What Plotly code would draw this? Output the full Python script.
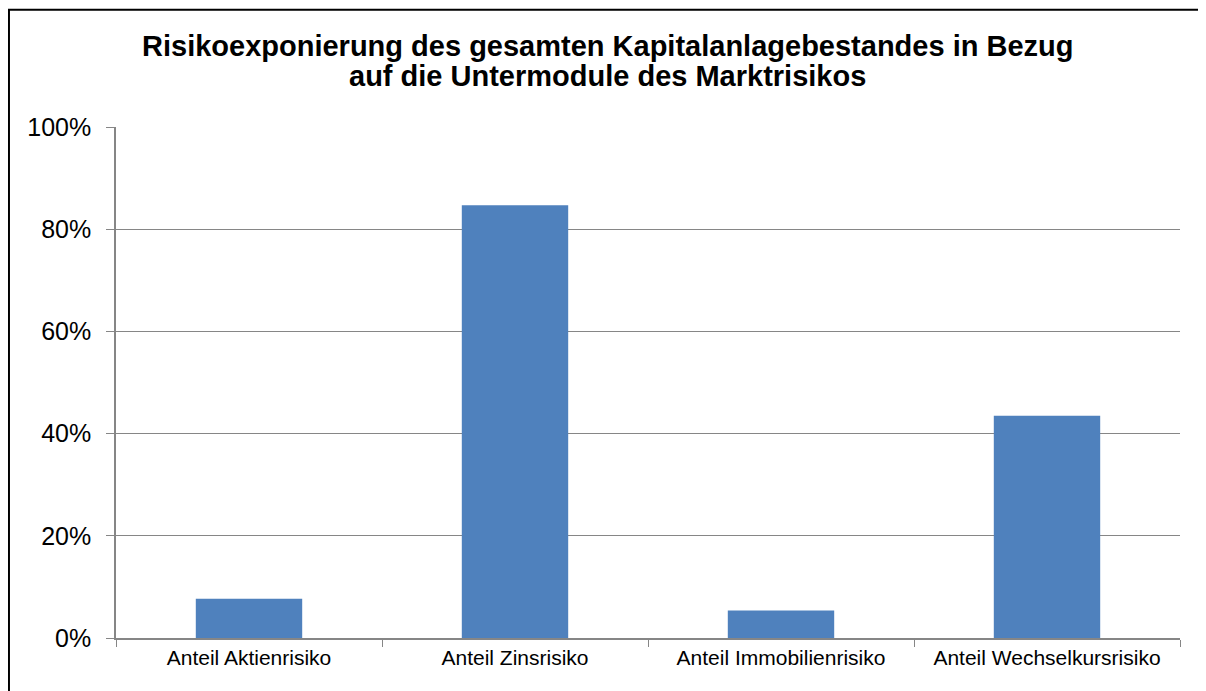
import plotly.graph_objects as go

categories = ["Anteil Aktienrisiko", "Anteil Zinsrisiko", "Anteil Immobilienrisiko", "Anteil Wechselkursrisiko"]
values = [0.077, 0.847, 0.054, 0.435]
tick_vals = [0, 0.2, 0.4, 0.6, 0.8, 1.0]
tick_text = ["0%", "20%", "40%", "60%", "80%", "100%"]
title_lines = ["Risikoexponierung des gesamten Kapitalanlagebestandes in Bezug",
               "auf die Untermodule des Marktrisikos"]

fig = go.Figure(go.Bar(
    x=categories, y=values, width=0.4,
    marker=dict(color="#4F81BD", line=dict(width=0)),
))

fig.update_layout(
    width=1198, height=683,
    margin=dict(l=108, r=26, t=118.5, b=52.5, autoexpand=False),
    paper_bgcolor="white", plot_bgcolor="white",
    font=dict(family="Liberation Sans, Arial, sans-serif", color="black"),
    showlegend=False,
    annotations=[
        dict(text="<b>" + title_lines[0] + "</b>", xref="paper", yref="paper",
             x=0.4624, y=1.159, xanchor="center", yanchor="middle",
             showarrow=False, font=dict(size=29, color="black")),
        dict(text="<b>" + title_lines[1] + "</b>", xref="paper", yref="paper",
             x=0.4624, y=1.0995, xanchor="center", yanchor="middle",
             showarrow=False, font=dict(size=29, color="black")),
    ],
    shapes=[dict(type="rect", xref="paper", yref="paper",
                 x0=-0.1006, x1=1.03, y0=-0.12, y1=1.2295,
                 line=dict(color="black", width=2), layer="above")],
)

fig.update_yaxes(
    range=[0, 1.0], tickvals=tick_vals, ticktext=tick_text,
    showgrid=True, gridcolor="#868686", gridwidth=1.3,
    showline=True, linecolor="#868686", linewidth=1.5,
    ticks="outside", ticklen=8, tickcolor="#868686",
    tickfont=dict(size=25), ticklabelstandoff=10, zeroline=False,
)
fig.update_xaxes(
    showline=True, linecolor="#868686", linewidth=2,
    ticks="outside", ticklen=7, tickcolor="#868686", tickson="boundaries",
    tickfont=dict(size=21), showgrid=False,
)

fig.write_html("out.html")
